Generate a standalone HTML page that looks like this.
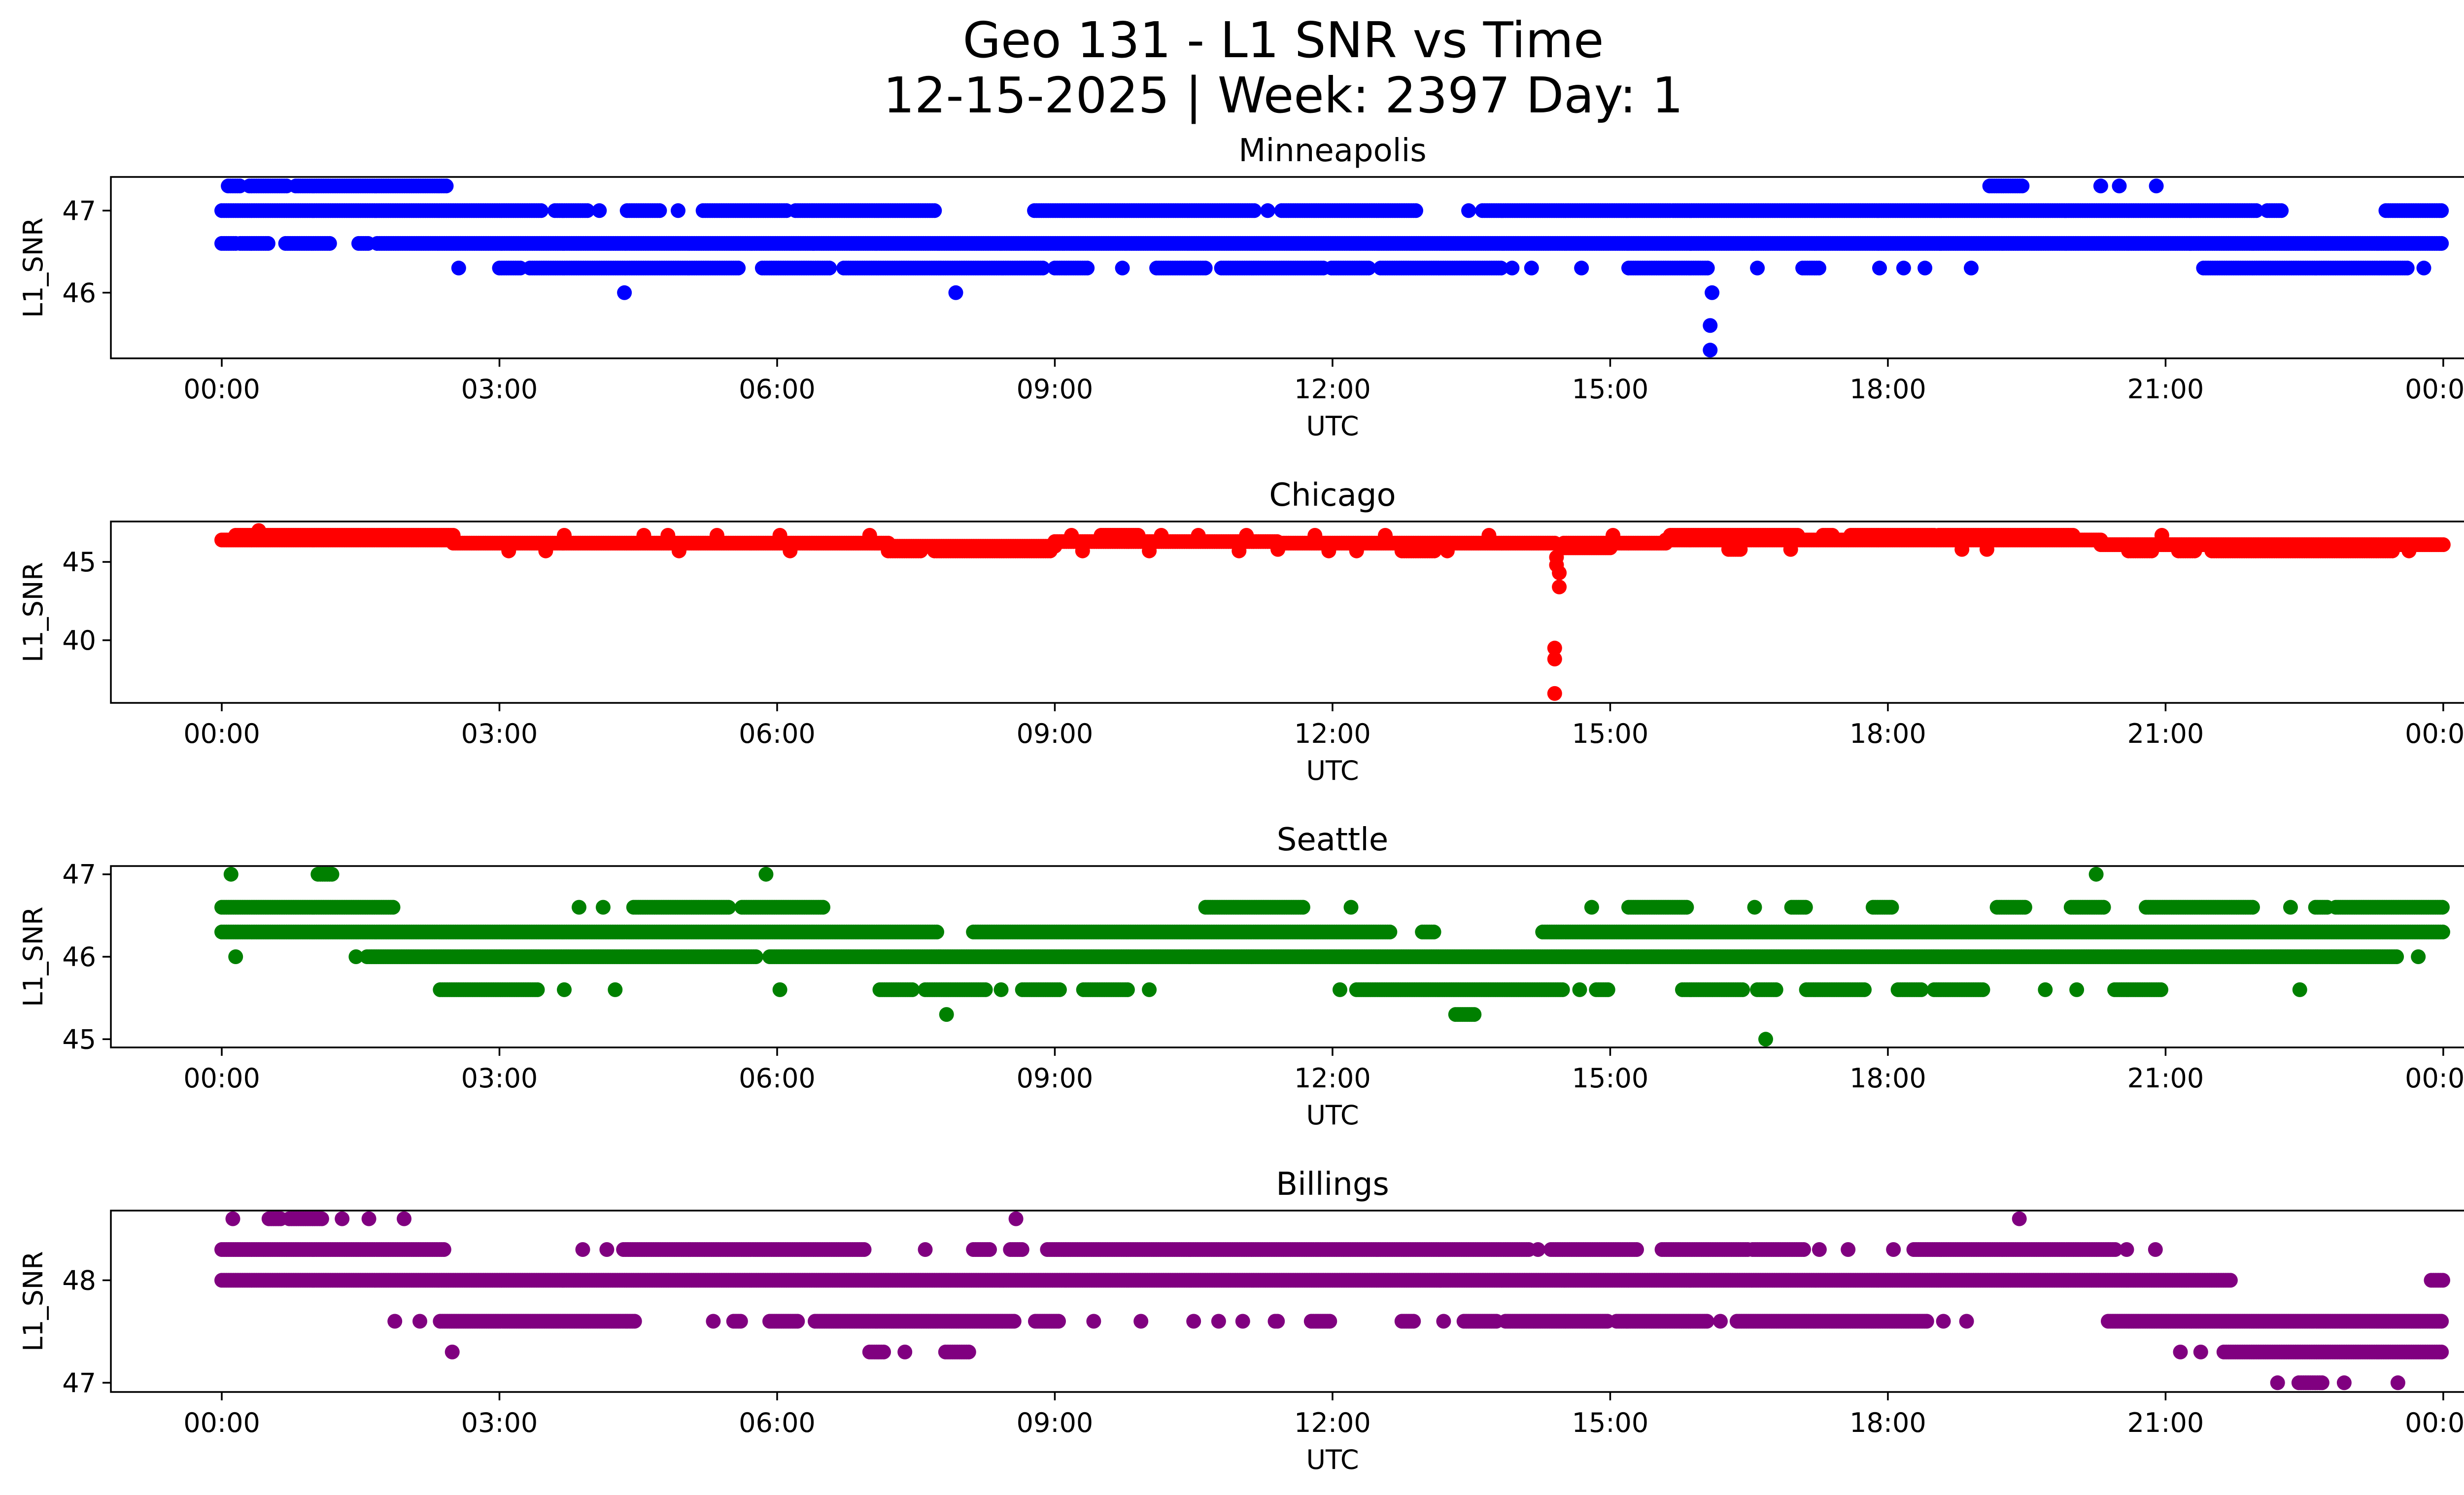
<!DOCTYPE html>
<html><head><meta charset="utf-8">
<style>
html,body{margin:0;padding:0;background:#fff;}
svg{display:block;font-family:"DejaVu Sans","Liberation Sans",sans-serif;}
</style></head>
<body>
<svg id="fig" xmlns="http://www.w3.org/2000/svg" width="5225" height="3033" viewBox="0 0 5225 3033">
<rect x="0" y="0" width="5225" height="3033" fill="#fff"/>
<text x="2604" y="116" font-size="100" text-anchor="middle">Geo 131 - L1 SNR vs Time</text>
<text x="2604" y="228" font-size="100" text-anchor="middle">12-15-2025 | Week: 2397 Day: 1</text>
<g id="plots"></g>
</svg>
<script>
// ---- data (value, startHour, endHour) ----
const mplsRuns = [
 [47.3,0.07,0.2],[47.3,0.3,0.7],[47.3,0.8,2.43],[47.3,19.1,19.45],[47.3,20.3,20.3],[47.3,20.5,20.5],[47.3,20.9,20.9],
 [47.0,0,3.46],[47.0,3.6,3.95],[47.0,4.08,4.08],[47.0,4.38,4.74],[47.0,4.93,4.93],[47.0,5.2,6.1],[47.0,6.2,7.7],[47.0,8.78,11.16],[47.0,11.3,11.3],[47.0,11.45,12.91],[47.0,13.47,13.47],[47.0,13.62,15.65],[47.0,15.68,22.0],[47.0,22.1,22.26],[47.0,23.38,24.0],
 [46.6,0,0.15],[46.6,0.2,0.5],[46.6,0.69,1.17],[46.6,1.48,1.6],[46.6,1.68,24.0],
 [46.3,2.56,2.56],[46.3,3.0,3.24],[46.3,3.33,5.6],[46.3,5.84,6.58],[46.3,6.72,8.87],[46.3,9.0,9.36],[46.3,9.73,9.73],[46.3,10.1,10.63],[46.3,10.8,11.9],[46.3,11.99,12.39],[46.3,12.52,13.82],[46.3,13.94,13.94],[46.3,14.15,14.15],[46.3,14.69,14.69],[46.3,15.2,16.05],[46.3,16.59,16.59],[46.3,17.08,17.26],[46.3,17.91,17.91],[46.3,18.17,18.17],[46.3,18.4,18.4],[46.3,18.9,18.9],[46.3,21.41,23.62],[46.3,23.79,23.79],
 [46.0,4.35,4.35],[46.0,7.93,7.93],[46.0,16.1,16.1],[45.6,16.08,16.08],[45.3,16.08,16.08]
];
const chiRuns = [
 [46.4,0,2.5],[46.2,2.5,7.2],[46.0,7.2,9.0],[46.3,9.0,11.4],[46.2,11.4,14.4],[46.2,14.5,15.6],[46.4,15.6,20.3],[46.1,20.3,24.0],
 [46.7,0.15,2.5],[47.0,0.4,0.4],[46.7,3.7,3.7],[46.7,4.56,4.56],[46.7,4.82,4.82],[46.7,5.35,5.35],[46.7,6.03,6.03],[46.7,7.0,7.0],[46.7,9.18,9.18],[46.7,9.5,9.9],[46.7,10.15,10.15],[46.7,10.55,10.55],[46.7,11.07,11.07],[46.7,11.81,11.81],[46.7,12.57,12.57],[46.7,13.69,13.69],[46.7,15.03,15.03],[46.7,15.65,17.04],[46.7,17.3,17.4],[46.7,17.6,18.5],[46.7,18.55,20.0],[46.7,20.96,20.96],
 [45.7,3.1,3.1],[45.7,3.5,3.5],[45.7,4.94,4.94],[45.7,6.14,6.14],[45.7,7.2,7.55],[45.7,7.7,8.96],[45.7,9.3,9.3],[45.7,10.02,10.02],[45.7,10.99,10.99],[45.8,11.41,11.41],[45.7,11.96,11.96],[45.7,12.26,12.26],[45.7,12.75,13.1],[45.7,13.24,13.24],[45.8,16.28,16.41],[45.8,16.95,16.95],[45.8,18.8,18.8],[45.8,19.07,19.07],[45.7,20.6,20.87],[45.7,21.14,21.32],[45.7,21.5,23.46],[45.7,23.63,23.63],
 [45.9,14.5,15.0],[45.3,14.42,14.42],[44.8,14.42,14.42],[44.3,14.45,14.45],[43.4,14.45,14.45],[39.5,14.4,14.4],[38.8,14.4,14.4],[36.6,14.4,14.4]
];
const seaRuns = [
 [47.0,0.1,0.1],[47.0,1.04,1.21],[47.0,5.88,5.88],[47.0,20.25,20.25],
 [46.6,0,1.87],[46.6,3.86,3.86],[46.6,4.12,4.12],[46.6,4.45,5.48],[46.6,5.62,6.5],[46.6,10.63,11.68],[46.6,12.2,12.2],[46.6,14.8,14.8],[46.6,15.2,15.83],[46.6,16.56,16.56],[46.6,16.96,17.12],[46.6,17.84,18.06],[46.6,19.18,19.49],[46.6,19.98,20.34],[46.6,20.79,21.95],[46.6,22.35,22.35],[46.6,22.62,22.75],[46.6,22.84,24.0],
 [46.3,0,7.73],[46.3,8.12,12.62],[46.3,12.97,13.1],[46.3,14.27,24.0],
 [46.0,0.15,0.15],[46.0,1.45,1.45],[46.0,1.57,5.79],[46.0,5.92,23.51],[46.0,23.73,23.73],
 [45.6,2.36,3.42],[45.6,3.7,3.7],[45.6,4.25,4.25],[45.6,6.03,6.03],[45.6,7.11,7.46],[45.6,7.6,8.26],[45.6,8.42,8.42],[45.6,8.65,9.05],[45.6,9.31,9.8],[45.6,10.02,10.02],[45.6,12.08,12.08],[45.6,12.26,14.49],[45.6,14.67,14.67],[45.6,14.85,14.98],[45.6,15.78,16.45],[45.6,16.59,16.81],[45.6,17.12,17.75],[45.6,18.11,18.37],[45.6,18.5,19.04],[45.6,19.7,19.7],[45.6,20.04,20.04],[45.6,20.45,20.96],[45.6,22.45,22.45],
 [45.3,7.83,7.83],[45.3,13.33,13.55],[45.0,16.68,16.68]
];
const bilRuns = [
 [48.6,0.12,0.12],[48.6,0.51,0.64],[48.6,0.73,1.08],[48.6,1.3,1.3],[48.6,1.59,1.59],[48.6,1.97,1.97],[48.6,8.58,8.58],[48.6,19.42,19.42],
 [48.3,0,2.4],[48.3,3.9,3.9],[48.3,4.16,4.16],[48.3,4.34,6.94],[48.3,7.6,7.6],[48.3,8.12,8.3],[48.3,8.52,8.65],[48.3,8.92,14.13],[48.3,14.22,14.22],[48.3,14.36,15.3],[48.3,15.56,16.5],[48.3,16.54,17.1],[48.3,17.26,17.26],[48.3,17.57,17.57],[48.3,18.06,18.06],[48.3,18.28,20.47],[48.3,20.58,20.58],[48.3,20.89,20.89],
 [48.0,0,21.72],[48.0,23.87,24.0],
 [47.6,1.87,1.87],[47.6,2.14,2.14],[47.6,2.36,4.47],[47.6,5.31,5.31],[47.6,5.53,5.62],[47.6,5.92,6.23],[47.6,6.41,8.56],[47.6,8.79,9.05],[47.6,9.42,9.42],[47.6,9.93,9.93],[47.6,10.5,10.5],[47.6,10.77,10.77],[47.6,11.03,11.03],[47.6,11.38,11.41],[47.6,11.77,11.99],[47.6,12.75,12.88],[47.6,13.2,13.2],[47.6,13.42,13.78],[47.6,13.87,14.98],[47.6,15.07,16.05],[47.6,16.19,16.19],[47.6,16.37,18.42],[47.6,18.6,18.6],[47.6,18.85,18.85],[47.6,20.38,24.0],
 [47.3,2.49,2.49],[47.3,7.0,7.16],[47.3,7.38,7.38],[47.3,7.82,8.08],[47.3,21.16,21.16],[47.3,21.38,21.38],[47.3,21.63,24.0],
 [47.0,22.21,22.21],[47.0,22.44,22.7],[47.0,22.93,22.93],[47.0,23.51,23.51]
];
const xTickHours = [0,3,6,9,12,15,18,21,24];
const xTickLabels = ["00:00","03:00","06:00","09:00","12:00","15:00","18:00","21:00","00:00"];
const panelTitles = ["Minneapolis","Chicago","Seattle","Billings"];
const mplsYTicks = [46,47];
const chiYTicks = [40,45];
const seaYTicks = [45,46,47];
const bilYTicks = [47,48];

const NS="http://www.w3.org/2000/svg";
const AX_L=225, AX_R=5183, AX_H=368, TOPS=[359,1058,1757,2456];
function xScale(h){return 450 + h*187.83;}
function mk(tag,attrs,parent){const e=document.createElementNS(NS,tag);for(const k in attrs)e.setAttribute(k,attrs[k]);parent.appendChild(e);return e;}

const panels=[
 {runs:mplsRuns,ticks:mplsYTicks,lim:[45.20,47.41],color:"#0000ff",key:"minneapolis"},
 {runs:chiRuns,ticks:chiYTicks,lim:[36.0,47.58],color:"#ff0000",key:"chicago"},
 {runs:seaRuns,ticks:seaYTicks,lim:[44.9,47.1],color:"#008000",key:"seattle"},
 {runs:bilRuns,ticks:bilYTicks,lim:[46.91,48.68],color:"#800080",key:"billings"}
];
const root=document.getElementById("plots");
panels.forEach((p,i)=>{
  const top=TOPS[i], bot=top+AX_H;
  const yScale=v=>top+(p.lim[1]-v)/(p.lim[1]-p.lim[0])*AX_H;
  const g=mk("g",{},root);
  
  
  const clipId="clip"+i;
  const cp=mk("clipPath",{id:clipId},g);
  mk("rect",{x:AX_L,y:top,width:AX_R-AX_L,height:AX_H},cp);
  const pts=mk("g",{"clip-path":"url(#"+clipId+")",fill:p.color},g);
  
  
  p.runs.forEach(r=>{
    const v=r[0], s=r[1], e=r[2];
    const cy=yScale(v);
    for(let t=s;t<=e+1e-9;t+=0.025){
      const c=mk("circle",{cx:xScale(t).toFixed(1),cy:cy.toFixed(1),r:15},pts);
      
      
    }
  });
  const frame=mk("rect",{x:AX_L,y:top,width:AX_R-AX_L,height:AX_H,fill:"none",stroke:"#000","stroke-width":3.5},g);
  
  
  const title=mk("text",{x:(AX_L+AX_R)/2,y:top-32,"font-size":64,"text-anchor":"middle"},g);
  title.textContent=panelTitles[i];
  
  
  xTickHours.forEach((h,j)=>{
    const x=xScale(h);
    const tk=mk("line",{x1:x,y1:bot,x2:x,y2:bot+17,stroke:"#000","stroke-width":3.5},g);
    
    
    const tl=mk("text",{x:x,y:bot+81,"font-size":54,"text-anchor":"middle"},g);
    tl.textContent=xTickLabels[j];
    
    
  });
  const xl=mk("text",{x:(AX_L+AX_R)/2,y:bot+156,"font-size":54,"text-anchor":"middle"},g);
  xl.textContent="UTC";
  
  
  p.ticks.forEach(v=>{
    const y=yScale(v);
    const tk=mk("line",{x1:AX_L-17,y1:y,x2:AX_L,y2:y,stroke:"#000","stroke-width":3.5},g);
    
    
    const tl=mk("text",{x:AX_L-30,y:y+19,"font-size":54,"text-anchor":"end"},g);
    tl.textContent=String(v);
    
    
  });
  const cy=top+AX_H/2;
  const yl=mk("text",{x:0,y:0,"font-size":54,"text-anchor":"middle",transform:"translate(86,"+cy+") rotate(-90)"},g);
  yl.textContent="L1_SNR";
  
  
});
</script>
</body></html>
